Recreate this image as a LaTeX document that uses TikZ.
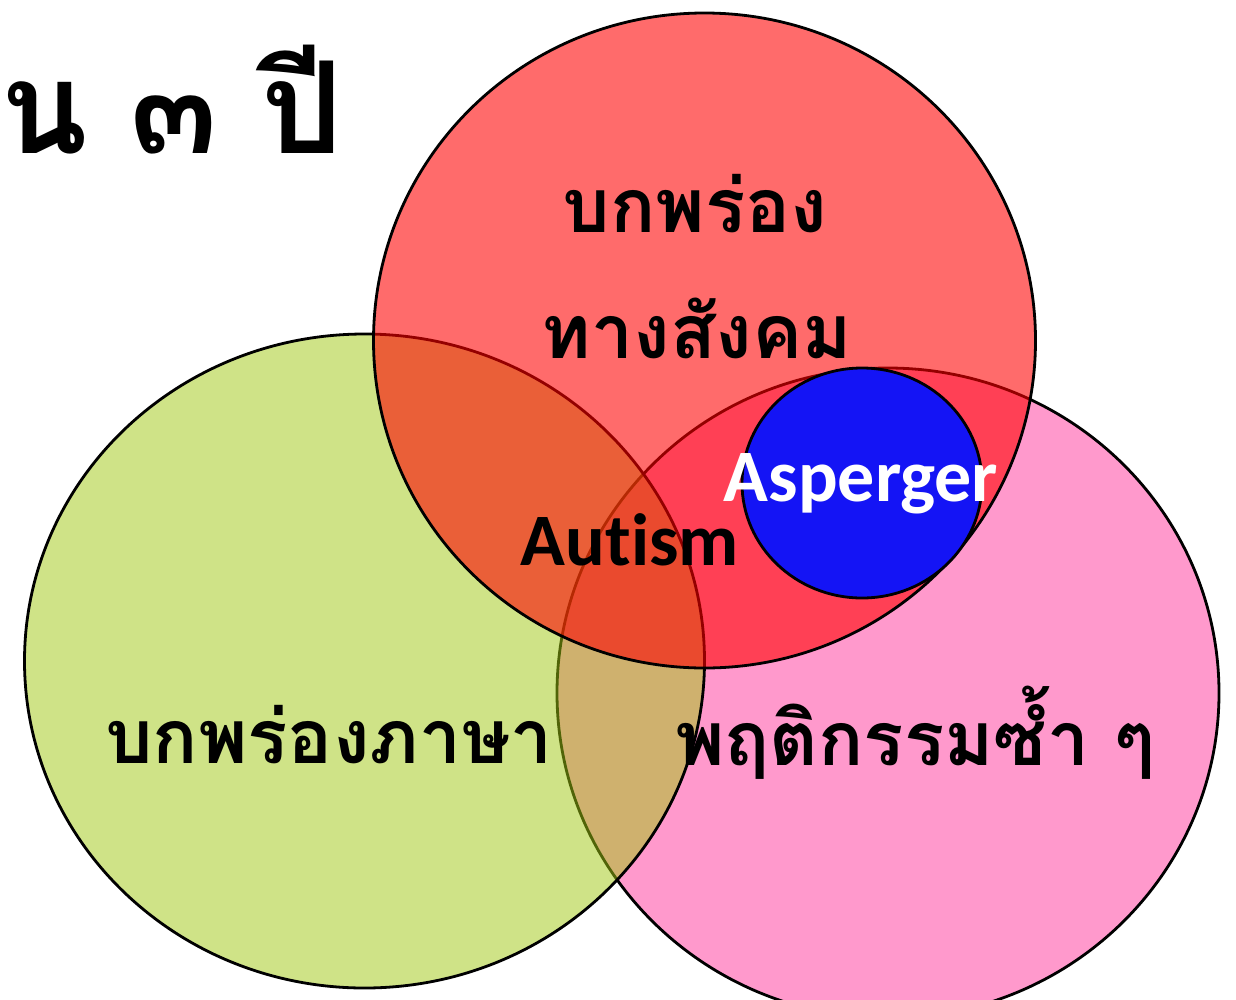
\documentclass[tikz,border=0pt]{standalone}
\usepackage{fontspec}
\newfontfamily\thaifont[Script=Thai]{Loma}
\newfontfamily\latfont[Ligatures=NoCommon]{Carlito}
\definecolor{pinkc}{RGB}{255,153,204}
\definecolor{greenc}{RGB}{161,201,17}
\definecolor{bluec}{RGB}{20,20,245}
\begin{document}
\begin{tikzpicture}[x=1pt,y=-1pt,
  ring/.style={draw=black,line width=2.8pt},
  thaitext/.style={font=\thaifont\bfseries\fontsize{75}{80}\selectfont,anchor=base,inner sep=0pt},
  lattext/.style={font=\latfont\bfseries\fontsize{74}{80}\selectfont,anchor=base,inner sep=0pt}]
\useasboundingbox (0,0) rectangle (1236,999);
\clip (0,0) rectangle (1236,999);
\fill[white] (0,0) rectangle (1236,999);
% circles
\draw[ring,fill=pinkc] (888,693) ellipse [x radius=331,y radius=325];
\draw[ring,fill=greenc,fill opacity=0.5] (364.5,661) ellipse [x radius=340,y radius=327];
\draw[ring,fill=red,fill opacity=0.58] (704.5,340.5) ellipse [x radius=331,y radius=327.5];
\draw[ring,fill=bluec] (862,483) ellipse [x radius=120,y radius=115];
% texts
\node[thaitext,font=\thaifont\bfseries\fontsize{128}{132}\selectfont,anchor=base west] (title) at (0,153) {น ๓ ปี};
\node[thaitext] (social1) at (695,232) {บกพร่อง};
\node[thaitext] (social2) at (697,358) {ทางสังคม};
\node[thaitext] (lang) at (329,763) {บกพร่องภาษา};
\node[thaitext] (rep) at (915,765) {พฤติกรรมซ้ำ ๆ};
\node[lattext,text=white] (asp) at (861,501) {Asperger};
\node[lattext] (aut) at (630,565) {Autism};
\end{tikzpicture}
\end{document}
